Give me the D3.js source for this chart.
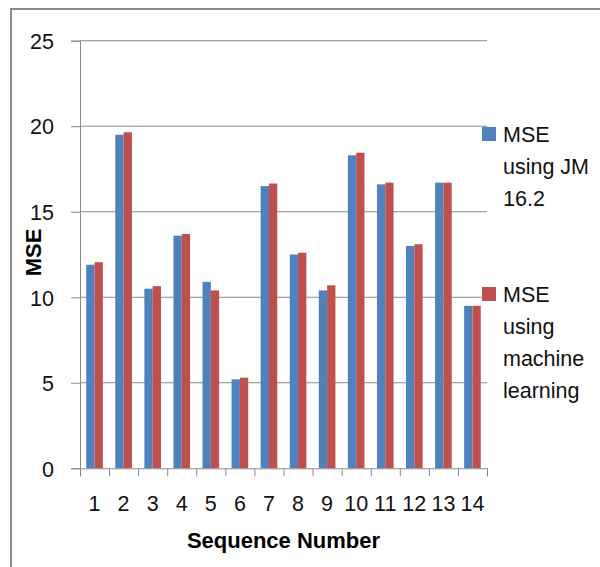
<!DOCTYPE html>
<html lang="en">
<head>
    <meta charset="UTF-8">
    <title>MSE per sequence</title>
    <script src="https://d3js.org/d3.v7.min.js"></script>
    <style>
        html, body {
            margin: 0;
            background: #fff;
        }
        text {
            font-family: "Liberation Sans", Arial, sans-serif;
        }
    </style>
</head>
<body>
<div id="vis"></div>
<script type="text/javascript">
// data
var sequences = ['1', '2', '3', '4', '5', '6', '7', '8', '9', '10', '11', '12', '13', '14'];
var mse_jm = [11.9, 19.5, 10.5, 13.6, 10.9, 5.2, 16.5, 12.5, 10.4, 18.3, 16.6, 13.0, 16.7, 9.5];
var mse_ml = [12.05, 19.65, 10.65, 13.7, 10.4, 5.3, 16.65, 12.6, 10.7, 18.45, 16.7, 13.1, 16.7, 9.5];
var y_ticks = [0, 5, 10, 15, 20, 25];
var series_names = ['MSE using JM 16.2', 'MSE using machine learning'];
var legend_lines = [['MSE', 'using JM', '16.2'], ['MSE', 'using', 'machine', 'learning']];
var colours = ['#4f81bd', '#c0504d'];

var width = 600,
    height = 567;

var plot = {left: 80, right: 487, top: 40.7, bottom: 468.3};

var svg = d3.select('#vis')
    .append('svg')
    .attr('width', width)
    .attr('height', height);

// chart frame, only top and left edges show
svg.append('rect')
    .attr('x', 11)
    .attr('y', 9)
    .attr('width', 700)
    .attr('height', 700)
    .attr('fill', 'none')
    .attr('stroke', '#8c8c8c')
    .attr('stroke-width', 2);

var x_scale = d3.scaleBand()
    .domain(sequences)
    .range([plot.left, plot.right])
    .padding(0);

var series_scale = d3.scaleBand()
    .domain([0, 1])
    .range([0, x_scale.bandwidth()])
    .paddingInner(0)
    .paddingOuter(0.75);

var y_scale = d3.scaleLinear()
    .domain([0, 25])
    .range([plot.bottom, plot.top]);

// gridlines
svg.append('g')
    .selectAll('line')
    .data(y_ticks.slice(1))
    .enter()
    .append('line')
    .attr('x1', plot.left)
    .attr('x2', plot.right)
    .attr('y1', function(d) { return y_scale(d); })
    .attr('y2', function(d) { return y_scale(d); })
    .attr('stroke', '#8a8a8a')
    .attr('stroke-width', 1);

// bars
var rows = sequences.map(function(s, i) {
    return {seq: s, values: [mse_jm[i], mse_ml[i]]};
});

var groups = svg.append('g')
    .selectAll('g')
    .data(rows)
    .enter()
    .append('g')
    .attr('transform', function(d) { return 'translate(' + x_scale(d.seq) + ',0)'; });

groups.selectAll('rect')
    .data(function(d) { return d.values; })
    .enter()
    .append('rect')
    .attr('x', function(d, i) { return series_scale(i); })
    .attr('width', series_scale.bandwidth())
    .attr('y', function(d) { return y_scale(d); })
    .attr('height', function(d) { return plot.bottom - y_scale(d); })
    .attr('fill', function(d, i) { return colours[i]; });

// y axis
var y_axis = d3.axisLeft(y_scale)
    .tickValues(y_ticks)
    .tickSize(9)
    .tickPadding(17);

var y_g = svg.append('g')
    .attr('transform', 'translate(' + plot.left + ',0)')
    .call(y_axis);

// x axis: ticks between categories, labels under each one
var edge_scale = d3.scaleLinear()
    .domain([0, sequences.length])
    .range([plot.left, plot.right]);

var x_g = svg.append('g')
    .attr('transform', 'translate(0,' + plot.bottom + ')')
    .call(d3.axisBottom(edge_scale).ticks(sequences.length).tickSize(8).tickFormat(''));

var x_labels = svg.append('g')
    .attr('transform', 'translate(0,' + plot.bottom + ')')
    .call(d3.axisBottom(x_scale).tickSize(0).tickPadding(27));

[y_g, x_g].forEach(function(g) {
    g.select('.domain').attr('stroke', '#8a8a8a');
    g.selectAll('.tick line').attr('stroke', '#8a8a8a');
});
x_labels.select('.domain').remove();

[y_g, x_labels].forEach(function(g) {
    g.selectAll('.tick text')
        .attr('font-family', '"Liberation Sans", Arial, sans-serif')
        .attr('font-size', '21.5px')
        .attr('fill', '#111');
});
y_g.selectAll('.tick text').attr('dy', '0.36em');

// axis titles
svg.append('text')
    .attr('x', (plot.left + plot.right) / 2)
    .attr('y', 548)
    .attr('text-anchor', 'middle')
    .attr('font-size', '22px')
    .attr('font-weight', 'bold')
    .attr('fill', '#000')
    .text('Sequence Number');

svg.append('text')
    .attr('transform', 'translate(41,252.5) rotate(-90)')
    .attr('text-anchor', 'middle')
    .attr('font-size', '22px')
    .attr('font-weight', 'bold')
    .attr('fill', '#000')
    .text('MSE');

// legend
var legend_top = [127, 287];

var legend = svg.append('g')
    .selectAll('g')
    .data(series_names)
    .enter()
    .append('g')
    .attr('transform', function(d, i) { return 'translate(482,' + legend_top[i] + ')'; });

legend.append('rect')
    .attr('width', 14)
    .attr('height', 14)
    .attr('fill', function(d, i) { return colours[i]; });

legend.append('text')
    .attr('font-size', '21.5px')
    .attr('fill', '#111')
    .selectAll('tspan')
    .data(function(d, i) { return legend_lines[i]; })
    .enter()
    .append('tspan')
    .attr('x', 21)
    .attr('y', function(d, j) { return 15 + j * 32; })
    .text(function(d) { return d; });
</script>
</body>
</html>
